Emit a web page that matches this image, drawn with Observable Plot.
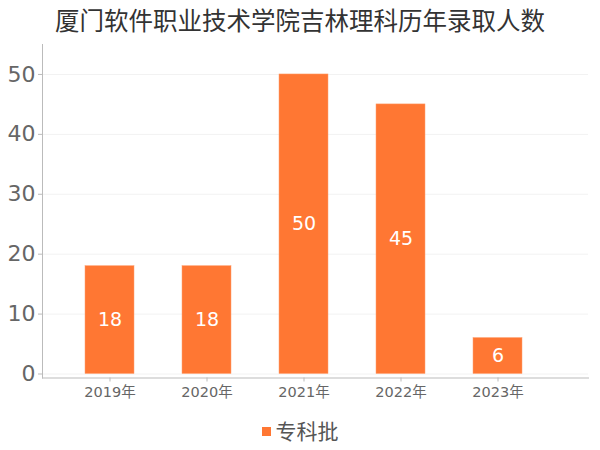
<!DOCTYPE html>
<html>
<head>
<meta charset="utf-8">
<script src="https://cdn.jsdelivr.net/npm/d3@7"></script>
<script src="https://cdn.jsdelivr.net/npm/@observablehq/plot@0.6"></script>
<style>
  body { margin: 0; background: #fff; font-family: "DejaVu Sans", "Noto Sans CJK SC", sans-serif; }
  #wrap { width: 600px; height: 450px; position: relative; }
  #title { height: 40px; line-height: 40px; text-align: center; font-size: 24.5px; color: #333; font-family: "Noto Sans CJK SC", sans-serif; }
  #legend { height: 40px; display: flex; justify-content: center; align-items: center; font-size: 21px; color: #555; font-family: "Noto Sans CJK SC", sans-serif; }
  #legend .sw { width: 9px; height: 9px; background: #ff7733; margin-right: 5px; margin-top: 2px; }
  svg { display: block; }
</style>
</head>
<body>
<div id="wrap">
  <div id="title">厦门软件职业技术学院吉林理科历年录取人数</div>
  <div id="chart"></div>
  <div id="legend"><span class="sw"></span><span>专科批</span></div>
</div>
<script>
const years = ["2019年", "2020年", "2021年", "2022年", "2023年"];
const values = [18, 18, 50, 45, 6];
const yTicks = [0, 10, 20, 30, 40, 50];
const seriesName = "专科批";
const barColor = "#ff7733";

const data = years.map((y, i) => ({year: y, value: values[i]}));

const chart = Plot.plot({
  width: 600,
  height: 370,
  marginLeft: 42,
  marginRight: 12,
  marginTop: 4,
  marginBottom: 32.5,
  style: {fontFamily: "'DejaVu Sans', 'Noto Sans CJK SC', sans-serif", background: "#fff"},
  x: {type: "band", domain: years, range: [59.2, 546.7], paddingInner: 0.5, paddingOuter: 0.25},
  y: {domain: [0, 55], insetBottom: 4},
  marks: [
    Plot.gridY(yTicks, {stroke: "#f2f2f2", strokeOpacity: 1}),
    Plot.barY(data, {x: "year", y: "value", fill: barColor, stroke: "#ffa070", strokeWidth: 0.5}),
    Plot.text(data, {x: "year", y: d => d.value / 2, text: d => String(d.value), fill: "#fff", fontSize: 19}),
    Plot.frame({anchor: "left", stroke: "#bbbbbb"}),
    Plot.frame({anchor: "bottom", stroke: "#bbbbbb"}),
    Plot.axisY(yTicks, {tickSize: 4, tickPadding: 3, fontSize: 22, stroke: "#bbb", fill: "#666", label: null}),
    Plot.axisX({tickSize: 4, tickPadding: 5, fontSize: 14.5, stroke: "#bbb", fill: "#666", label: null})
  ]
});
document.getElementById("chart").appendChild(chart);
</script>
</body>
</html>
